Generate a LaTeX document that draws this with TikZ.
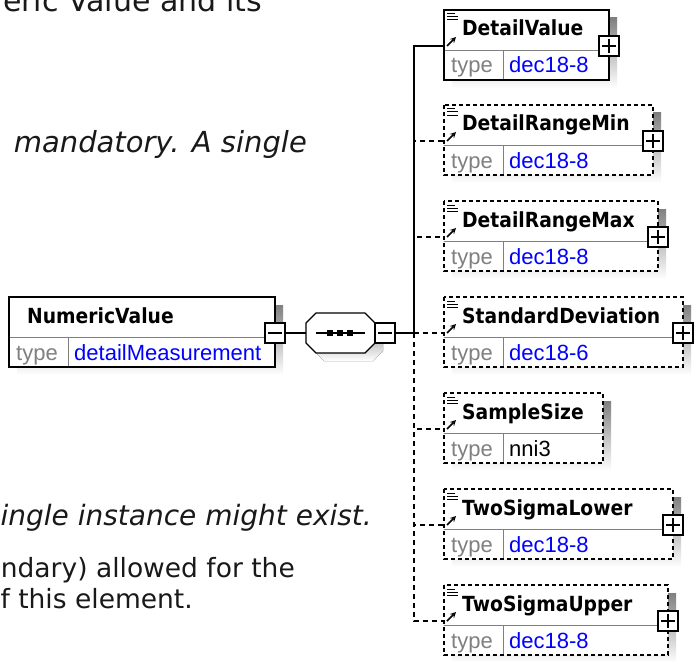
\documentclass[tikz,border=0pt]{standalone}
\usepackage{fontspec}
\setmainfont{DejaVu Sans}
\newfontfamily\namefont{DejaVu Sans}[FakeStretch=0.9]
\newfontfamily\typefont{Liberation Sans}
\usetikzlibrary{arrows,positioning,calc}
\definecolor{shade}{RGB}{200,200,200}
\definecolor{divgray}{RGB}{128,128,128}
\definecolor{typeblue}{RGB}{0,0,255}

\tikzset{
  elname/.style={font=\namefont\bfseries\fontsize{20.8}{24}\selectfont, anchor=base west, inner sep=0pt},
  eltype/.style={font=\typefont\fontsize{22}{26}\selectfont, anchor=base west, inner sep=0pt},
  pagetxt/.style={font=\fontsize{26.5}{32}\selectfont, anchor=base east, inner sep=0pt, text=black!90},
  pageit/.style={pagetxt, font=\fontsize{28}{34}\selectfont\itshape},
  expbox/.style={draw, fill=white, line width=1.3pt, minimum size=20pt, inner sep=0pt},
  boxdash/.style={dash pattern=on 4pt off 3pt},
  optline/.style={dash pattern=on 5pt off 4pt},
  conn/.style={line width=1.4pt},
}

% #1 name, #2 left, #3 top, #4 right, #5 element, #6 type, #7 type colour, #8 border
\newcommand{\xsdbox}[8]{%
  \fill[shade] (#2+8,#3+8) rectangle (#4+8,#3+78);
  \fill[white] (#2,#3) rectangle (#4,#3+70);
  \draw[divgray, line width=0.9pt] (#2,#3+40) -- (#4,#3+40) (#2+59,#3+40) -- (#2+59,#3+70);
  \draw[line width=1.4pt, #8] (#2,#3) rectangle (#4,#3+70);
  \node[elname] (#1) at (#2+18,#3+26) {#5};
  \node[eltype, text=divgray] at (#2+7,#3+63) {type};
  \node[eltype, text=#7] at (#2+65,#3+63) {#6};
  \coordinate (#1-in) at (#2,#3+36);
}
% documentation and reference marks
\newcommand{\refmarks}[2]{%
  \draw[line width=1pt] (#1+3,#2+4) -- (#1+11,#2+4) (#1+3,#2+7) -- (#1+14,#2+7) (#1+3,#2+10) -- (#1+14,#2+10);
  \draw[line width=1.6pt, -stealth] (#1+3,#2+36) -- (#1+12,#2+27);
}
% #1 name, #2 x, #3 y, #4 sign
\newcommand{\signbox}[4]{%
  \node[expbox] (#1) at (#2,#3) {};
  \draw[line width=1.3pt] ([xshift=4pt]#1.west) -- ([xshift=-4pt]#1.east);
  \ifx#4+\draw[line width=1.3pt] ([yshift=-4pt]#1.north) -- ([yshift=4pt]#1.south);\fi
}

\begin{document}
\begin{tikzpicture}[x=1pt,y=-1pt]
\useasboundingbox (0,0) rectangle (694,661);
\fill[white] (0,0) rectangle (694,661);

% surrounding page text
\node[pagetxt, font=\fontsize{30}{36}\selectfont] (txta) at (262,12) {eric Value and its};
\node[pageit, font=\fontsize{29}{35}\selectfont\itshape] (txtb) at (307,153) {mandatory. A single};
\node[pageit] (txtc) at (372,525) {ingle instance might exist.};
\node[pagetxt] (txtd) at (295,577) {ndary) allowed for the};
\node[pagetxt] (txte) at (193,608) {f this element.};

% root element and sequence
\xsdbox{numval}{9}{297}{275}{NumericValue}{detailMeasurement}{typeblue}{solid}
\fill[shade, shift={(8,8)}] (306,323) -- (316,313) -- (365,313) -- (375,323)
  -- (375,343) -- (365,353) -- (316,353) -- (306,343) -- cycle;
\draw[fill=white, line width=1.4pt] (306,323) -- (316,313) -- (365,313) -- (375,323)
  -- (375,343) -- (365,353) -- (316,353) -- (306,343) -- cycle;
\node[inner sep=0pt, minimum width=69pt, minimum height=40pt] (seq) at (340.5,333) {};
\draw[line width=1.3pt] ([xshift=10pt]seq.west) -- ([xshift=-10pt]seq.east);
\foreach \x in {330,340,350} \fill (\x-3,330) rectangle (\x+3,336);
\signbox{nvminus}{275}{333}{-}
\signbox{seqminus}{385}{333}{-}
\coordinate (junc) at (414,333);

% child elements
\xsdbox{dv}{444}{10}{609}{DetailValue}{dec18-8}{typeblue}{solid}
\xsdbox{drmin}{444}{105}{653}{DetailRangeMin}{dec18-8}{typeblue}{boxdash}
\xsdbox{drmax}{444}{201}{658}{DetailRangeMax}{dec18-8}{typeblue}{boxdash}
\xsdbox{sd}{444}{297}{683}{StandardDeviation}{dec18-6}{typeblue}{boxdash}
\xsdbox{ss}{444}{393}{603}{SampleSize}{nni3}{black}{boxdash}
\xsdbox{tsl}{444}{489}{673}{TwoSigmaLower}{dec18-8}{typeblue}{boxdash}
\xsdbox{tsu}{444}{585}{668}{TwoSigmaUpper}{dec18-8}{typeblue}{boxdash}
\foreach \t in {10,105,201,297,393,489,585} {\refmarks{444}{\t}}
\foreach \c/\r/\t in {dv/609/10,drmin/653/105,drmax/658/201,sd/683/297,tsl/673/489,tsu/668/585}
  {\signbox{\c-plus}{\r}{\t+36}{+}}

% connectors
\draw[conn] (nvminus) -- (seq);
\draw[conn] (seqminus) -- (junc);
\draw[conn] (junc) |- (dv-in);
\foreach \c in {drmin,drmax,sd,ss,tsl,tsu}
  \draw[conn, optline] (junc) |- (\c-in);
\end{tikzpicture}
\end{document}
